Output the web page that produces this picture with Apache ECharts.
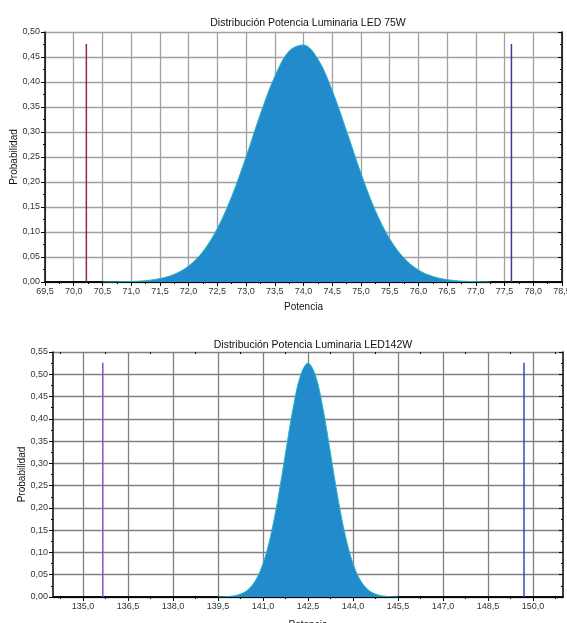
<!DOCTYPE html>
<html>
<head>
<meta charset="utf-8">
<script src="https://cdn.jsdelivr.net/npm/echarts@6/dist/echarts.min.js"></script>
<style>
  html, body { margin: 0; padding: 0; background: #fff; }
  #chart { width: 567px; height: 623px; }
</style>
</head>
<body>
<div id="chart"></div>
<script>
// LED 75W
var potencia75 = [70.5, 70.75, 71.0, 71.25, 71.5, 71.75, 72.0, 72.25, 72.5, 72.75, 73.0, 73.25, 73.5, 73.75, 74.0,
  74.25, 74.5, 74.75, 75.0, 75.25, 75.5, 75.75, 76.0, 76.25, 76.5, 76.75, 77.0, 77.25];
var prob75 = [0, 0.0003, 0.001, 0.0027, 0.0068, 0.0154, 0.032, 0.061, 0.107, 0.171, 0.25, 0.336, 0.411, 0.462, 0.474,
  0.446, 0.383, 0.302, 0.2175, 0.143, 0.0865, 0.0478, 0.024, 0.0112, 0.0047, 0.0018, 0.0007, 0];
var limites75 = [70.22, 77.62];
var altoLimite75 = 0.476;

// LED 142W
var potencia142 = [139.5, 139.75, 140.0, 140.25, 140.5, 140.75, 141.0, 141.25, 141.5, 141.75, 142.0, 142.25, 142.5,
  142.75, 143.0, 143.25, 143.5, 143.75, 144.0, 144.25, 144.5, 144.75, 145.0, 145.25, 145.5];
var prob142 = [0, 0.0008, 0.0023, 0.0066, 0.0165, 0.0371, 0.0749, 0.1358, 0.2209, 0.3226, 0.4228, 0.4973, 0.525,
  0.4973, 0.4228, 0.3226, 0.2209, 0.1358, 0.0749, 0.0371, 0.0165, 0.0066, 0.0023, 0.0008, 0];
var limites142 = [135.66, 149.7];
var altoLimite142 = 0.526;
var ticksX142 = [135.0, 136.5, 138.0, 139.5, 141.0, 142.5, 144.0, 145.5, 147.0, 148.5, 150.0];
var menoresX142 = [134.25, 135.75, 137.25, 138.75, 140.25, 141.75, 143.25, 144.75, 146.25, 147.75, 149.25, 150.75];

var fuente = 'Liberation Sans';
var coma = function (d) {
  return function (v) { return v.toFixed(d).replace('.', ','); };
};

function limite(x, alto, color, xi, yi) {
  return {
    type: 'line', xAxisIndex: xi, yAxisIndex: yi, showSymbol: false, silent: true,
    data: [[x, 0], [x, alto]],
    lineStyle: { color: color, width: 1.5 }
  };
}

function curva(xs, ys, xi, yi) {
  return {
    type: 'line', xAxisIndex: xi, yAxisIndex: yi, smooth: 0.35, showSymbol: false,
    data: xs.map(function (x, i) { return [x, ys[i]]; }),
    lineStyle: { color: '#2fb3c2', width: 1 },
    areaStyle: { color: '#218bcb', opacity: 1 }
  };
}

var linea = { lineStyle: { color: '#000', width: 1.5 } };
var grilla = { show: true, lineStyle: { color: '#a0a0a0', width: 1.3 } };
var etiqueta = { fontFamily: fuente, fontSize: 9, color: '#333', margin: 5 };
var nombre = { fontFamily: fuente, fontSize: 10, color: '#111' };

var chart = echarts.init(document.getElementById('chart'));
var option = {
  animation: false,
  title: [
    { text: 'Distribución Potencia Luminaria LED 75W', left: 303, top: 13, textAlign: 'center',
      textStyle: { fontFamily: fuente, fontSize: 10.5, fontWeight: 'normal', color: '#111' } },
    { text: 'Distribución Potencia Luminaria LED142W', left: 308, top: 335, textAlign: 'center',
      textStyle: { fontFamily: fuente, fontSize: 10.5, fontWeight: 'normal', color: '#111' } }
  ],
  grid: [
    { left: 45, top: 32, width: 517, height: 250, outerBoundsMode: 'none' },
    { left: 53, top: 352, width: 510, height: 245, outerBoundsMode: 'none' }
  ],
  xAxis: [
    { gridIndex: 0, type: 'value', min: 69.5, max: 78.5, interval: 0.5, position: 'bottom',
      name: 'Potencia', nameLocation: 'middle', nameGap: 20, nameTextStyle: nombre,
      axisLine: linea, axisTick: { length: 4, lineStyle: { color: '#000' } },
      minorTick: { show: true, splitNumber: 2, length: 2, lineStyle: { color: '#000' } },
      axisLabel: Object.assign({ formatter: coma(1), showMaxLabel: true }, etiqueta),
      splitLine: grilla },
    { gridIndex: 0, type: 'value', min: 69.5, max: 78.5, interval: 0.5, position: 'top',
      axisLine: linea, axisTick: { inside: true, length: 4, lineStyle: { color: '#000' } },
      minorTick: { show: true, splitNumber: 2, length: 2, lineStyle: { color: '#000' } },
      axisLabel: { show: false }, splitLine: { show: false } },
    { gridIndex: 1, type: 'value', min: 134, max: 151, position: 'bottom',
      name: 'Potencia', nameLocation: 'middle', nameGap: 23, nameTextStyle: nombre,
      axisLine: linea, axisTick: { length: 4, customValues: ticksX142, lineStyle: { color: '#000' } },
      axisLabel: Object.assign({ formatter: coma(1), customValues: ticksX142 }, etiqueta),
      splitLine: { show: true, lineStyle: { color: '#808080', width: 1.3 } } },
    { gridIndex: 1, type: 'value', min: 134, max: 151, position: 'top',
      axisLine: linea, axisTick: { inside: true, length: 4, customValues: ticksX142, lineStyle: { color: '#000' } },
      axisLabel: { show: false }, splitLine: { show: false } },
    { gridIndex: 1, type: 'value', min: 134, max: 151, position: 'bottom',
      axisLine: { show: false }, axisTick: { length: 2, customValues: menoresX142, lineStyle: { color: '#000' } },
      axisLabel: { show: false }, splitLine: { show: false } },
    { gridIndex: 1, type: 'value', min: 134, max: 151, position: 'top',
      axisLine: { show: false }, axisTick: { inside: true, length: 2, customValues: menoresX142, lineStyle: { color: '#000' } },
      axisLabel: { show: false }, splitLine: { show: false } }
  ],
  yAxis: [
    { gridIndex: 0, type: 'value', min: 0, max: 0.5, interval: 0.05,
      name: 'Probabilidad', nameLocation: 'middle', nameGap: 26, nameMoveOverlap: false, nameTextStyle: nombre,
      axisLine: linea, axisTick: { length: 4, lineStyle: { color: '#000' } },
      minorTick: { show: true, splitNumber: 2, length: 2, lineStyle: { color: '#000' } },
      axisLabel: Object.assign({ formatter: coma(2) }, etiqueta),
      splitLine: grilla },
    { gridIndex: 0, type: 'value', min: 0, max: 0.5, interval: 0.05, position: 'right',
      axisLine: linea, axisTick: { inside: true, length: 4, lineStyle: { color: '#000' } },
      minorTick: { show: true, splitNumber: 2, length: 2, lineStyle: { color: '#000' } },
      axisLabel: { show: false }, splitLine: { show: false } },
    { gridIndex: 1, type: 'value', min: 0, max: 0.55, interval: 0.05,
      name: 'Probabilidad', nameLocation: 'middle', nameGap: 26, nameMoveOverlap: false, nameTextStyle: nombre,
      axisLine: linea, axisTick: { length: 4, lineStyle: { color: '#000' } },
      minorTick: { show: true, splitNumber: 2, length: 2, lineStyle: { color: '#000' } },
      axisLabel: Object.assign({ formatter: coma(2) }, etiqueta),
      splitLine: { show: true, lineStyle: { color: '#808080', width: 1.3 } } },
    { gridIndex: 1, type: 'value', min: 0, max: 0.55, interval: 0.05, position: 'right',
      axisLine: linea, axisTick: { inside: true, length: 4, lineStyle: { color: '#000' } },
      minorTick: { show: true, splitNumber: 2, length: 2, lineStyle: { color: '#000' } },
      axisLabel: { show: false }, splitLine: { show: false } }
  ],
  series: [
    curva(potencia75, prob75, 0, 0),
    limite(limites75[0], altoLimite75, '#8c2550', 0, 0),
    limite(limites75[1], altoLimite75, '#3d3a9c', 0, 0),
    curva(potencia142, prob142, 2, 2),
    limite(limites142[0], altoLimite142, '#8a52c4', 2, 2),
    limite(limites142[1], altoLimite142, '#3b46c0', 2, 2)
  ]
};
chart.setOption(option);
</script>
</body>
</html>
